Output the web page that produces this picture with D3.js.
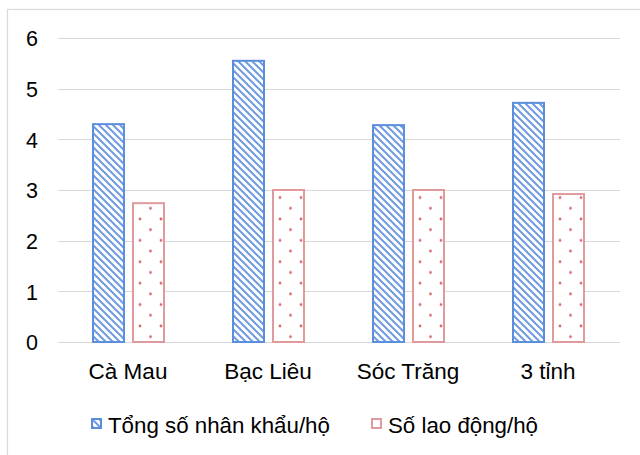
<!DOCTYPE html>
<html>
<head>
<meta charset="utf-8">
<script src="https://cdn.jsdelivr.net/npm/d3@7"></script>
<style>
  html, body { margin: 0; padding: 0; background: #fff; }
  svg { display: block; font-family: "Liberation Sans", Arial, sans-serif; }
</style>
</head>
<body>
<svg id="chart" width="640" height="455"></svg>
<script>
// Household size and labour per household by province
const categories = ["Cà Mau", "Bạc Liêu", "Sóc Trăng", "3 tỉnh"];
const seriesNames = ["Tổng số nhân khẩu/hộ", "Số lao động/hộ"];
const householdSize = [4.3, 5.55, 4.28, 4.72];
const laborPerHousehold = [2.74, 3.0, 3.0, 2.92];
const yTicks = [0, 1, 2, 3, 4, 5, 6];

const seriesValues = [householdSize, laborPerHousehold];
const rows = categories.map((c, i) => ({
  category: c,
  values: seriesNames.map((s, j) => ({ series: s, value: seriesValues[j][i] }))
}));

const svg = d3.select("#chart");
const W = 640, H = 455;
const blue = "#5B8EDC", red = "#E09A9C";

// hatch and dot fills
const defs = svg.append("defs");
const hatch = defs.append("pattern")
  .attr("id", "hatch").attr("patternUnits", "userSpaceOnUse")
  .attr("width", 7).attr("height", 7);
hatch.append("rect").attr("width", 7).attr("height", 7).attr("fill", "#fff");
hatch.append("path")
  .attr("d", "M0,0L7,7M-3.5,3.5L3.5,10.5M3.5,-3.5L10.5,3.5")
  .attr("stroke", "#6F9BE0").attr("stroke-width", 2).attr("fill", "none");

const dots = defs.append("pattern")
  .attr("id", "dots").attr("patternUnits", "userSpaceOnUse")
  .attr("x", 3).attr("y", 5)
  .attr("width", 21).attr("height", 21.4);
dots.append("rect").attr("width", 21).attr("height", 21.4).attr("fill", "#fff");
dots.append("circle").attr("cx", 5.5).attr("cy", 10.7).attr("r", 1.4).attr("fill", "#D66A6E");
dots.append("circle").attr("cx", 16).attr("cy", 0).attr("r", 1.4).attr("fill", "#D66A6E");
dots.append("circle").attr("cx", 16).attr("cy", 21.4).attr("r", 1.4).attr("fill", "#D66A6E");

// outer frame
svg.append("rect")
  .attr("x", 7.5).attr("y", 9.5).attr("width", W + 20).attr("height", H + 20)
  .attr("fill", "none").attr("stroke", "#d9d9d9").attr("stroke-width", 1.2);

const y = d3.scaleLinear().domain([0, 6]).range([342, 38]);
const x0 = d3.scaleBand().domain(categories).range([58, 618]).padding(0);
const x1 = d3.scaleBand().domain(seriesNames).range([35, 106]).paddingInner(0.225).paddingOuter(0);
const fills = { [seriesNames[0]]: "url(#hatch)", [seriesNames[1]]: "url(#dots)" };
const strokes = { [seriesNames[0]]: blue, [seriesNames[1]]: red };

// gridlines
svg.append("g").selectAll("line").data(yTicks).join("line")
  .attr("x1", 58).attr("x2", 620)
  .attr("y1", d => Math.round(y(d)) + 0.5).attr("y2", d => Math.round(y(d)) + 0.5)
  .attr("stroke", "#d9d9d9").attr("stroke-width", 1.2);

// y-axis labels
const yAxis = d3.axisLeft(y).tickValues(yTicks).tickFormat(d3.format("d")).tickSize(0).tickPadding(0);
const gy = svg.append("g").attr("transform", "translate(38,0)").call(yAxis);
gy.select(".domain").remove();
gy.selectAll("text").attr("font-size", 21.5).attr("fill", "#000")
  .attr("font-family", "Liberation Sans, Arial, sans-serif").attr("dy", "0.36em");

// bars
const groups = svg.append("g").selectAll("g").data(rows).join("g")
  .attr("transform", d => `translate(${x0(d.category)},0)`);
groups.selectAll("rect").data(d => d.values).join("rect")
  .attr("x", d => x1(d.series))
  .attr("y", d => y(d.value))
  .attr("width", x1.bandwidth())
  .attr("height", d => y(0) - y(d.value))
  .attr("fill", d => fills[d.series])
  .attr("stroke", d => strokes[d.series])
  .attr("stroke-width", 2);

// category labels
const xAxis = d3.axisBottom(x0).tickSize(0).tickPadding(0);
const gx = svg.append("g").attr("transform", "translate(0,379)").call(xAxis);
gx.select(".domain").remove();
gx.selectAll("text").attr("font-size", 22.5).attr("fill", "#000")
  .attr("font-family", "Liberation Sans, Arial, sans-serif").attr("dy", 0);

// legend
const legendX = [91, 371];
const legend = svg.append("g").selectAll("g").data(seriesNames).join("g")
  .attr("transform", (d, i) => `translate(${legendX[i]},418)`);
legend.append("rect")
  .attr("x", 1).attr("y", 1).attr("width", 9).attr("height", 9)
  .attr("fill", d => fills[d]).attr("stroke", d => strokes[d]).attr("stroke-width", 2);
legend.append("text")
  .attr("x", 17).attr("y", 14.5)
  .attr("font-size", 22.3).attr("fill", "#000")
  .text(d => d);
</script>
</body>
</html>
